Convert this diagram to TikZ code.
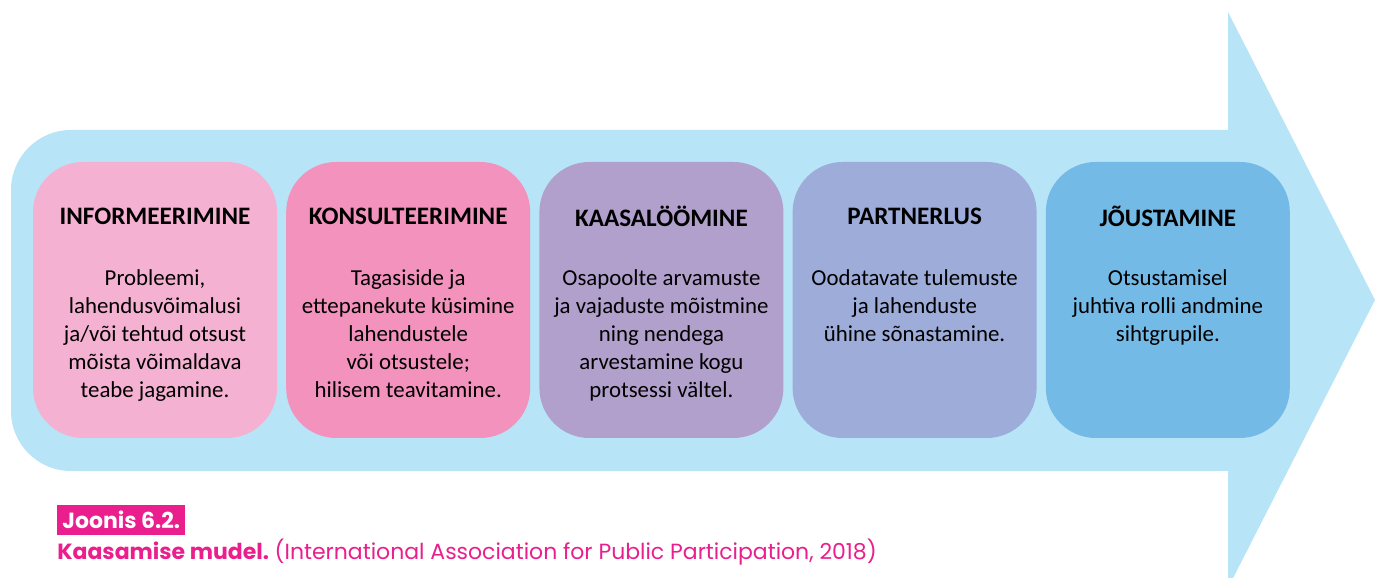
\documentclass[tikz,border=0pt]{standalone}
\usepackage{fontspec}
\setmainfont{Carlito}
\newfontfamily\capfont{Poppins}
\usepackage{xcolor}
\usetikzlibrary{positioning, calc}

\definecolor{arrowbg}{HTML}{B7E4F6}
\definecolor{stageA}{HTML}{F5B1D2}
\definecolor{stageB}{HTML}{F292BD}
\definecolor{stageC}{HTML}{B1A0CC}
\definecolor{stageD}{HTML}{9DACD9}
\definecolor{stageE}{HTML}{74BAE7}
\definecolor{capmagenta}{HTML}{EA1E8C}

\begin{document}
\begin{tikzpicture}[
    stage/.style={rectangle, rounded corners=1cm, minimum width=4.88cm, minimum height=5.52cm, inner sep=0pt},
    stagetitle/.style={font=\fontsize{14.3}{17}\selectfont\bfseries},
    stagetext/.style={anchor=north, align=center, inner sep=0pt, font=\fontsize{13}{15.9}\selectfont}
]
\useasboundingbox (0,0) rectangle (27.5,-11.56);

% Big arrow
\fill[arrowbg] (24.56,-2.6) -- (24.56,-0.24) -- (27.5,-6) -- (24.56,-11.76) -- (24.56,-9.42)
    -- (1.42,-9.42) arc[start angle=270, end angle=180, radius=1.2]
    -- (0.22,-3.8) arc[start angle=180, end angle=90, radius=1.2] -- cycle;

% Stages
\node[stage, fill=stageA] (inf) at (3.1,-6) {};
\node[stage, fill=stageB, right=0.17cm of inf] (kon) {};
\node[stage, fill=stageC, right=0.17cm of kon] (kaa) {};
\node[stage, fill=stageD, right=0.17cm of kaa] (par) {};
\node[stage, fill=stageE, right=0.17cm of par] (jou) {};

\node[stagetitle] (inftitle) at ([yshift=-1.1cm]inf.north) {INFORMEERIMINE};
\node[stagetitle] (kontitle) at ([yshift=-1.1cm]kon.north) {KONSULTEERIMINE};
\node[stagetitle] (kaatitle) at ([yshift=-1.1cm]kaa.north) {KAASALÖÖMINE};
\node[stagetitle] (partitle) at ([yshift=-1.1cm]par.north) {PARTNERLUS};
\node[stagetitle] (joutitle) at ([yshift=-1.1cm]jou.north) {JÕUSTAMINE};

\node[stagetext] (inftext) at ([yshift=-2.15cm]inf.north) {Probleemi,\\ lahendusvõimalusi\\ ja/või tehtud otsust\\ mõista võimaldava\\ teabe jagamine.};
\node[stagetext] (kontext) at ([yshift=-2.15cm]kon.north) {Tagasiside ja\\ ettepanekute küsimine\\ lahendustele\\ või otsustele;\\ hilisem teavitamine.};
\node[stagetext] (kaatext) at ([yshift=-2.15cm]kaa.north) {Osapoolte arvamuste\\ ja vajaduste mõistmine\\ ning nendega\\ arvestamine kogu\\ protsessi vältel.};
\node[stagetext] (partext) at ([yshift=-2.15cm]par.north) {Oodatavate tulemuste\\ ja lahenduste\\ ühine sõnastamine.};
\node[stagetext] (joutext) at ([yshift=-2.15cm]jou.north) {Otsustamisel\\ juhtiva rolli andmine\\ sihtgrupile.};

% Caption
\node[fill=capmagenta, text=white, anchor=west, minimum height=0.6cm, inner xsep=0.1cm,
    font=\capfont\fontsize{12.5}{15}\selectfont\bfseries] (fignum) at (1.14,-10.4) {Joonis 6.2.};
\node[anchor=west, inner sep=0pt, text=capmagenta, font=\capfont\fontsize{12.5}{15}\selectfont] (figcap) at (1.14,-11.04)
    {\textbf{Kaasamise mudel.}\hspace{-0.1em} (International Association for Public Participation, 2018)};
\end{tikzpicture}
\end{document}
